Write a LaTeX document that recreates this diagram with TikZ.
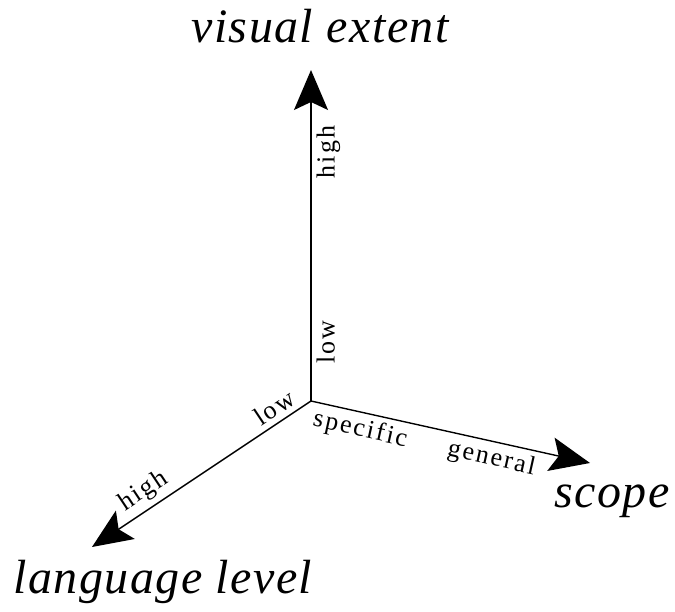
\documentclass[tikz,border=0pt]{standalone}
\usepackage{fontspec}
\setmainfont{Liberation Serif}
\usetikzlibrary{arrows.meta}
\tikzset{
  axis/.style={line width=.7pt,-{Stealth[length=20pt,width=17pt,inset=4pt]}},
  tick/.style={font=\fontsize{13}{15}\selectfont\addfontfeature{LetterSpace=8},sloped,inner sep=2.5pt},
  title/.style={anchor=base,font=\fontsize{24}{28}\selectfont\itshape\addfontfeature{LetterSpace=3}}
}
\begin{document}
\begin{tikzpicture}[x=.5pt,y=.5pt]
    \useasboundingbox (0,0) rectangle (675,611);
    \coordinate (o) at (311,210);
    \coordinate (vis) at (311,541);
    \coordinate (scp) at (590,148);
    \coordinate (lang) at (92,64);
    % axes
    \draw[axis] (o) -- node[tick,pos=.178,below] (vlow) {low}
                     node[tick,pos=.752,below] (vhigh) {high} (vis);
    \draw[axis] (o) -- node[tick,pos=.19,below] (sspec) {specific}
                     node[tick,pos=.66,below] (sgen) {general} (scp);
    \draw[axis] (o) -- node[tick,pos=.13,above] (llow) {low}
                     node[tick,pos=.72,above] (lhigh) {high} (lang);
    % axis names
    \node[title] (tvis) at (320,568) {visual extent};
    \node[title] (tscp) at (612,104) {scope};
    \node[title] (tlang) at (163,18) {language level};
\end{tikzpicture}
\end{document}
